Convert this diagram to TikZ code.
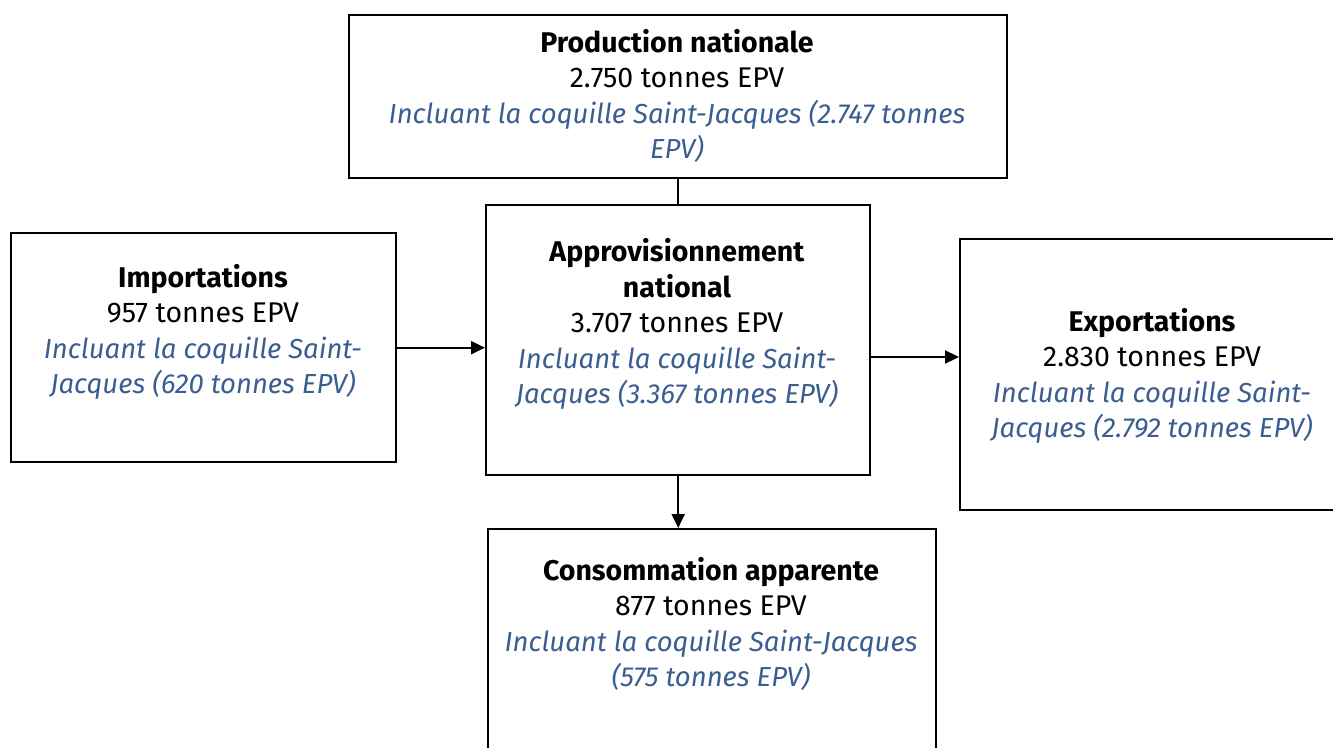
\documentclass[tikz,border=0pt]{standalone}
\usepackage{fontspec}
\setmainfont{Fira Sans}
\usetikzlibrary{arrows.meta}
\definecolor{ecblue}{RGB}{58,94,145}
\tikzset{
  boxnode/.style={draw=black,line width=2.4pt,inner sep=0pt,anchor=north west},
  txt/.style={align=center,font=\fontsize{28.5}{35.5}\selectfont,inner sep=0pt},
  conn/.style={line width=2.2pt},
  arr/.style={conn,-{Triangle[length=14pt,width=13pt]}},
}
\newcommand{\blueit}[1]{{\fontsize{27.5}{35.5}\selectfont\itshape\color{ecblue}#1}}
\begin{document}
\begin{tikzpicture}[x=1pt,y=-1pt]
\clip (0,0) rectangle (1333,747);
\fill[white] (0,0) rectangle (1333,747);
\node[boxnode,minimum width=658pt,minimum height=163pt] (prod) at (348,14) {};
\node[boxnode,minimum width=385pt,minimum height=229pt] (imp) at (10,232) {};
\node[boxnode,minimum width=384pt,minimum height=270pt] (appro) at (485,204) {};
\node[boxnode,minimum width=400pt,minimum height=271pt] (exp) at (959,238) {};
\node[boxnode,minimum width=448pt,minimum height=240pt] (cons) at (487,528) {};

\node[txt] (tprod) at (677,96) {\textbf{Production nationale}\\2.750 tonnes EPV\\\blueit{Incluant la coquille Saint-Jacques (2.747 tonnes}\\\blueit{EPV)}};
\node[txt] (timp) at (203,332) {\textbf{Importations}\\957 tonnes EPV\\\blueit{Incluant la coquille Saint-}\\\blueit{Jacques (620 tonnes EPV)}};
\node[txt] (tappro) at (677,324) {\textbf{Approvisionnement}\\\textbf{national}\\3.707 tonnes EPV\\\blueit{Incluant la coquille Saint-}\\\blueit{Jacques (3.367 tonnes EPV)}};
\node[txt] (texp) at (1152,376) {\textbf{Exportations}\\2.830 tonnes EPV\\\blueit{Incluant la coquille Saint-}\\\blueit{Jacques (2.792 tonnes EPV)}};
\node[txt] (tcons) at (711,624) {\textbf{Consommation apparente}\\877 tonnes EPV\\\blueit{Incluant la coquille Saint-Jacques}\\\blueit{(575 tonnes EPV)}};

\draw[conn] (prod.south -| appro.north) -- (appro.north);
\draw[arr] (imp.east) -- (imp.east -| appro.west);
\draw[arr] (appro.east |- 0,357) -- (exp.west |- 0,357);
\draw[arr] (appro.south) -- (appro.south |- cons.north);
\end{tikzpicture}
\end{document}
